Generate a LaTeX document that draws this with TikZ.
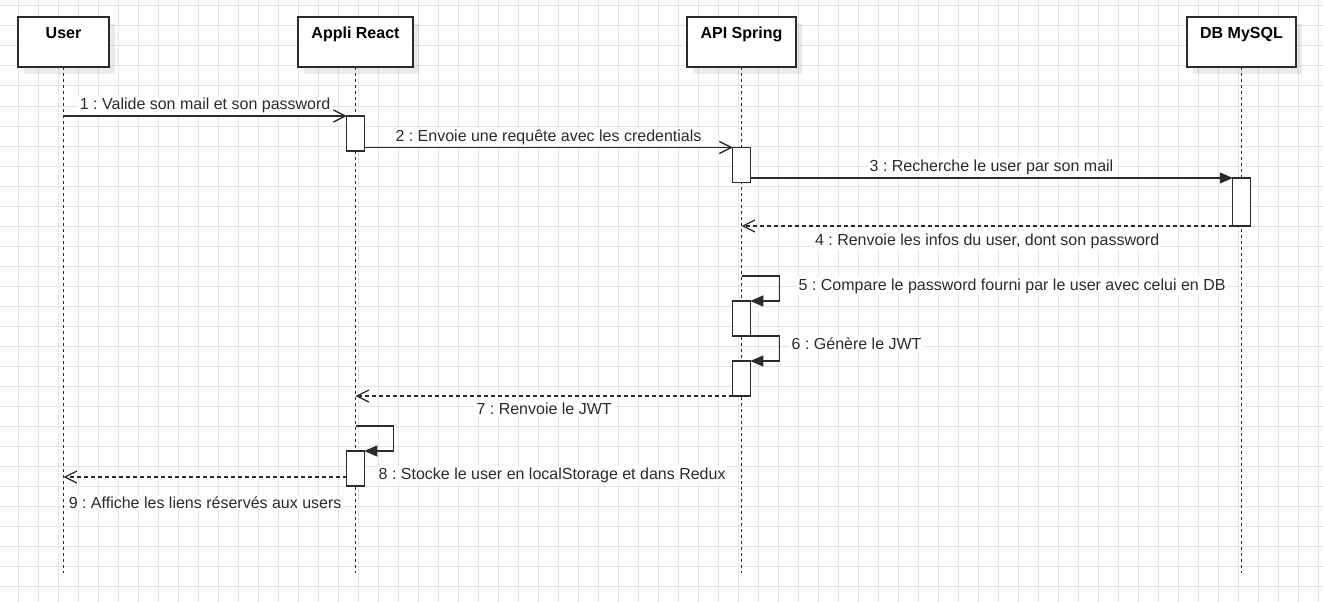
\documentclass[tikz,border=0pt]{standalone}
\usepackage{fontspec}
\setmainfont{Liberation Sans}
\usetikzlibrary{arrows.meta,positioning,shadows}
\frenchspacing

\definecolor{ink}{HTML}{2B2B2B}
\definecolor{gridgray}{HTML}{E4E4E4}

\begin{document}
\begin{tikzpicture}[x=1pt, y=-1pt, font=\fontsize{16}{19}\selectfont,
  gridline/.style={gridgray, line width=1pt},
  head/.style={draw=ink, line width=1.3pt, fill=white, font=\fontsize{16}{19}\selectfont\bfseries,
    minimum width=109pt, minimum height=50pt, inner xsep=0pt, inner ysep=5pt, outer sep=0pt,
    text height=16.5pt, text depth=23.5pt,
    drop shadow={shadow xshift=6pt, shadow yshift=-7pt, fill=black, opacity=.08}},
  life/.style={draw=ink, line width=1.5pt, dash pattern=on 3pt off 3pt},
  act/.style={draw=ink, line width=1.3pt, fill=white, minimum width=17.5pt, inner sep=0pt, outer sep=0pt, anchor=north},
  call/.style={draw=ink, line width=1.3pt, -{Straight Barb[length=12pt, width=12pt]}},
  sync/.style={draw=ink, line width=1.3pt, -{Triangle[length=13pt, width=11pt]}},
  reply/.style={call, dash pattern=on 4pt off 3pt},
  lbl/.style={fill=white, text=ink, inner sep=1.5pt, anchor=base}]

  % Grid background
  \useasboundingbox (0,0) rectangle (1323,602);
  \fill[white] (0,0) rectangle (1323,602);
  \foreach \gx in {18,38,...,1318} \draw[gridline] (\gx,0) -- (\gx,602);
  \foreach \gy in {6,26,...,586} \draw[gridline] (0,\gy) -- (1323,\gy);

  % Participants
  \node[head, minimum width=91pt] (user) at (63.5,42) {User};
  \node[head, minimum width=115pt, right=189pt of user] (app) {Appli React};
  \node[head, right=274pt of app] (api) {API Spring};
  \node[head, right=391pt of api] (db) {DB MySQL};

  % Lifelines
  \draw[life] (user) -- (user |- 0,573);
  \draw[life] (app) -- (app |- 0,573);
  \draw[life] (api) -- (api |- 0,573);
  \draw[life] (db) -- (db |- 0,573);

  % Activation bars
  \node[act, minimum height=35pt] (a1) at (app |- 0,116) {};
  \node[act, minimum height=35pt] (a2) at (api |- 0,147.5) {};
  \node[act, minimum height=48pt] (a3) at (db |- 0,178) {};
  \node[act, minimum height=35pt] (a4) at (api |- 0,301) {};
  \node[act, minimum height=35pt] (a5) at (api |- 0,361) {};
  \node[act, minimum height=35pt] (a6) at (app |- 0,451) {};

  % Messages
  \draw[call] (user |- a1.north) -- node[lbl, yshift=6pt] {1 : Valide son mail et son password} (a1.north west);
  \draw[call] (a1.east |- a2.north) -- node[lbl, yshift=6.5pt] {2 : Envoie une requête avec les credentials} (a2.north west);
  \draw[sync] (a2.east |- a3.north) -- node[lbl, yshift=6.5pt] {3 : Recherche le user par son mail} (a3.north west);
  \draw[reply] (a3.south west) -- node[lbl, yshift=-19pt] {4 : Renvoie les infos du user, dont son password} (api |- a3.south);

  % Self calls
  \draw[sync] (api |- 0,276) -- ++(38,0) |- (a4.north east);
  \node[lbl, anchor=base west] (m5) at (797,290) {5 : Compare le password fourni par le user avec celui en DB};
  \draw[sync] (api |- a4.south) -- ++(38,0) |- (a5.north east);
  \node[lbl, anchor=base west] (m6) at (790,349) {6 : Génère le JWT};

  \draw[reply] (a5.south west) -- node[lbl, yshift=-18pt] {7 : Renvoie le JWT} (app |- a5.south);
  \draw[sync] (app |- 0,426) -- ++(38,0) |- (a6.north east);
  \node[lbl, anchor=base west] (m8) at (377,479) {8 : Stocke le user en localStorage et dans Redux};
  \draw[reply] (a6.west |- 0,477) -- node[lbl, yshift=-31pt] {9 : Affiche les liens réservés aux users} (user |- 0,477);
\end{tikzpicture}
\end{document}
